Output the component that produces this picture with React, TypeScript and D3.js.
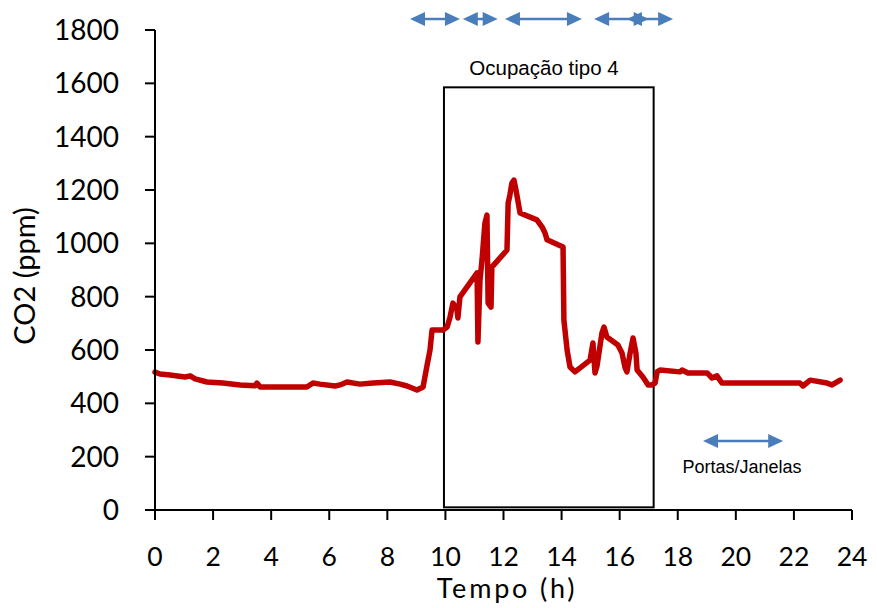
import React from "react";
import * as d3 from "d3";

const hours: number[] = [0, 0.17, 0.52, 1.03, 1.21, 1.38, 1.79, 2.34, 2.93, 3.44, 3.51, 3.62, 4.06, 5.23, 5.44, 5.68, 6.2, 6.37, 6.61, 7.06, 7.51, 8.09, 8.44, 8.68, 9.02, 9.23, 9.37, 9.47, 9.54, 9.92, 10.06, 10.16, 10.26, 10.4, 10.43, 10.5, 11.09, 11.12, 11.19, 11.26, 11.36, 11.43, 11.47, 11.57, 11.6, 12.12, 12.16, 12.22, 12.29, 12.36, 12.43, 12.57, 13.15, 13.33, 13.43, 13.5, 14.05, 14.08, 14.19, 14.29, 14.46, 14.98, 15.08, 15.15, 15.22, 15.39, 15.46, 15.56, 15.94, 16.08, 16.18, 16.25, 16.36, 16.46, 16.56, 16.6, 16.8, 16.98, 17.11, 17.22, 17.29, 17.39, 18.08, 18.15, 18.35, 19.01, 19.18, 19.35, 19.52, 20.49, 21.28, 22.21, 22.31, 22.56, 23.14, 23.31, 23.59];
const co2: number[] = [517, 510, 506, 499, 503, 492, 480, 476, 469, 466, 476, 461, 461, 461, 476, 472, 465, 469, 480, 472, 476, 480, 472, 465, 450, 461, 544, 600, 675, 675, 686, 724, 776, 750, 720, 799, 889, 630, 862, 937, 1076, 1106, 776, 761, 911, 975, 1151, 1181, 1226, 1237, 1200, 1114, 1088, 1061, 1039, 1013, 986, 712, 600, 536, 518, 562, 626, 514, 540, 664, 686, 649, 619, 589, 536, 518, 589, 645, 589, 525, 499, 469, 469, 476, 518, 525, 518, 525, 514, 514, 495, 503, 476, 476, 476, 476, 465, 487, 476, 469, 487];

const xTicks: number[] = [0, 2, 4, 6, 8, 10, 12, 14, 16, 18, 20, 22, 24];
const yTicks: number[] = [0, 200, 400, 600, 800, 1000, 1200, 1400, 1600, 1800];

const occupancyStart = 9.95;
const occupancyEnd = 17.17;
const occupancyTop = 1585;
const occupancyBottom = 10;
const occupancyLabel = "Ocupação tipo 4";

const doorArrows: [number, number][] = [
  [8.78, 10.5],
  [10.6, 11.8],
  [12.05, 14.7],
  [15.12, 17.0],
  [16.25, 17.84],
];
const legendArrow: [number, number] = [18.87, 21.63];
const legendLabel = "Portas/Janelas";

const xTitle = "Tempo (h)";
const yTitle = "CO2 (ppm)";

const W = 877;
const H = 608;
const LINE = "#C00000";
const BLUE = "#4A7EBB";

function Arrow({ x1, x2, y }: { x1: number; x2: number; y: number }) {
  const hl = 15;
  const hw = 7;
  return (
    <g>
      <line x1={x1 + hl - 1} x2={x2 - hl + 1} y1={y} y2={y} stroke={BLUE} strokeWidth={2.5} />
      <path d={`M${x1},${y} L${x1 + hl},${y - hw} L${x1 + hl},${y + hw} Z`} fill={BLUE} />
      <path d={`M${x2},${y} L${x2 - hl},${y - hw} L${x2 - hl},${y + hw} Z`} fill={BLUE} />
    </g>
  );
}

export default function App() {
  const x = d3.scaleLinear().domain([0, 24]).range([155, 852]);
  const y = d3.scaleLinear().domain([0, 1800]).range([510, 30]);
  const data = hours.map((h, i) => [h, co2[i]] as [number, number]);
  const line = d3
    .line<[number, number]>()
    .x((d) => x(d[0]))
    .y((d) => y(d[1]))
    .curve(d3.curveLinear);

  const tickFont = "Lato, 'Open Sans', sans-serif";
  return (
    <svg
      width={W}
      height={H}
      style={{ position: "absolute", left: 0, top: 0, background: "#fff" }}
    >
      <rect x={0} y={0} width={W} height={H} fill="#fff" />
      {/* occupancy box */}
      <rect
        x={x(occupancyStart)}
        y={y(occupancyTop)}
        width={x(occupancyEnd) - x(occupancyStart)}
        height={y(occupancyBottom) - y(occupancyTop)}
        fill="none"
        stroke="#000"
        strokeWidth={2}
      />
      <text
        x={544}
        y={75}
        textAnchor="middle"
        fontFamily="'Liberation Sans', Arial, sans-serif"
        fontSize={20.5}
        fill="#000"
      >
        {occupancyLabel}
      </text>

      {/* data line */}
      <path
        d={line(data) || ""}
        fill="none"
        stroke={LINE}
        strokeWidth={5.5}
        strokeLinejoin="round"
        strokeLinecap="round"
      />

      {/* axes */}
      <line x1={x(0) - 10} x2={x(24)} y1={y(0)} y2={y(0)} stroke="#000" strokeWidth={2} />
      <line x1={x(0)} x2={x(0)} y1={y(1800)} y2={y(0) + 10} stroke="#000" strokeWidth={2} />
      {xTicks.map((t) => (
        <g key={"xt" + t}>
          <line x1={x(t)} x2={x(t)} y1={y(0)} y2={y(0) + 10} stroke="#000" strokeWidth={2} />
          <text
            x={x(t)}
            y={566}
            textAnchor="middle"
            fontFamily={tickFont}
            fontSize={26.5}
            fill="#000"
          >
            {t}
          </text>
        </g>
      ))}
      {yTicks.map((t) => (
        <g key={"yt" + t}>
          <line x1={x(0) - 10} x2={x(0)} y1={y(t)} y2={y(t)} stroke="#000" strokeWidth={2} />
          <text
            x={119}
            y={y(t) + 10}
            textAnchor="end"
            fontFamily={tickFont}
            fontSize={28}
            fill="#000"
          >
            {t}
          </text>
        </g>
      ))}

      <text
        x={507}
        y={598}
        textAnchor="middle"
        fontFamily={tickFont}
        fontSize={27}
        letterSpacing={2.8}
        fill="#000"
      >
        {xTitle}
      </text>
      <text
        transform={`translate(35,276) rotate(-90)`}
        textAnchor="middle"
        fontFamily={tickFont}
        fontSize={29}
        fill="#000"
      >
        {yTitle}
      </text>

      {/* door/window arrows */}
      {doorArrows.map(([a, b], i) => (
        <Arrow key={"a" + i} x1={x(a)} x2={x(b)} y={19} />
      ))}
      <Arrow x1={x(legendArrow[0])} x2={x(legendArrow[1])} y={441} />
      <text
        x={742}
        y={473}
        textAnchor="middle"
        fontFamily="'Liberation Sans', Arial, sans-serif"
        fontSize={18}
        fill="#000"
      >
        {legendLabel}
      </text>
    </svg>
  );
}
